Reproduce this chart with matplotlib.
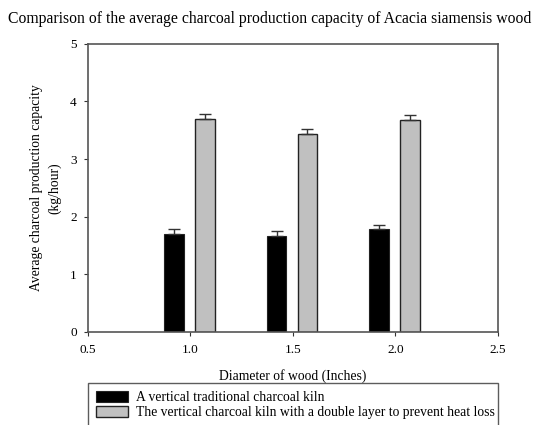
import matplotlib.pyplot as plt
import numpy as np

plt.rcParams['font.family'] = ['Liberation Serif', 'DejaVu Serif']

diameters = [1.0, 1.5, 2.0]
traditional = [1.70, 1.66, 1.78]
traditional_err = [0.09, 0.09, 0.08]
double_layer = [3.70, 3.43, 3.68]
double_layer_err = [0.09, 0.09, 0.09]
labels = ["A vertical traditional charcoal kiln",
          "The vertical charcoal kiln with a double layer to prevent heat loss"]

fig = plt.figure(figsize=(5.36, 4.25), dpi=100)
ax = fig.add_axes([0.164, 0.219, 0.765, 0.678])

x = np.array(diameters)
w = 0.095
ax.bar(x - 0.08, traditional, w, color='black', edgecolor='#222222', linewidth=0.8,
       yerr=[np.zeros(3), traditional_err], capsize=4,
       error_kw=dict(ecolor='#333333', elinewidth=1, capthick=1), label=labels[0])
ax.bar(x + 0.07, double_layer, w, color='#c0c0c0', edgecolor='#222222', linewidth=1,
       yerr=[np.zeros(3), double_layer_err], capsize=4,
       error_kw=dict(ecolor='#333333', elinewidth=1, capthick=1), label=labels[1])

ax.set_xlim(0.5, 2.5)
ax.set_ylim(0, 5)
ax.set_xticks([0.5, 1.0, 1.5, 2.0, 2.5])
ax.set_xticklabels(['0.5', '1.0', '1.5', '2.0', '2.5'])
ax.set_yticks([0, 1, 2, 3, 4, 5])
ax.tick_params(labelsize=9.5, length=3, color='#333333')
ax.tick_params(axis='x', pad=6)
ax.tick_params(axis='y', pad=5)
for s in ax.spines.values():
    s.set_color('#555555')
    s.set_linewidth(1.2)

ax.set_xlabel("Diameter of wood (Inches)", fontsize=9.8, labelpad=9)
ax.set_ylabel("Average charcoal production capacity\n(kg/hour)", fontsize=9.8,
              labelpad=6, linespacing=1.5)
fig.suptitle("Comparison of the average charcoal production capacity of Acacia siamensis wood",
             fontsize=11.3, x=0.503, y=0.975)

leg = fig.legend(loc='upper left', bbox_to_anchor=(0.164, 0.099, 0.765, 0), mode='expand',
                 fontsize=9.8, frameon=True, fancybox=False, handlelength=2.35, handleheight=0.8,
                 labelspacing=0.15, borderaxespad=0, borderpad=0.6, handletextpad=0.6)
leg.get_frame().set_edgecolor('#333333')
leg.get_frame().set_linewidth(1)

plt.savefig("out.png", dpi=100)
